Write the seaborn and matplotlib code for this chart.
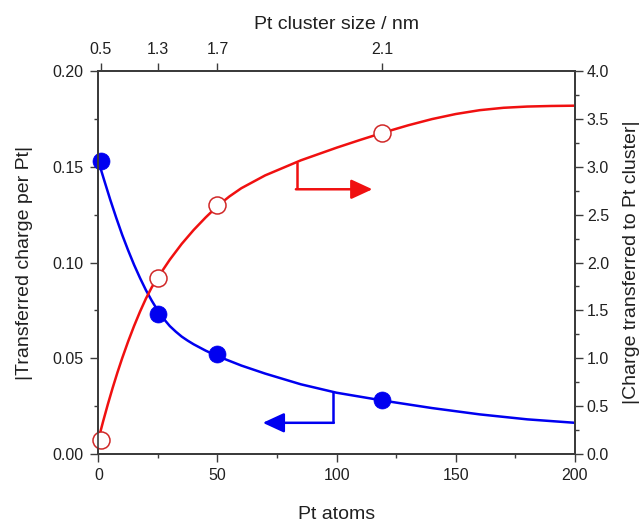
import matplotlib
matplotlib.use("Agg")
import matplotlib.pyplot as plt
from matplotlib.ticker import MultipleLocator, FixedLocator, FormatStrFormatter
import seaborn as sns
import pandas as pd

# Computed charge for Pt clusters
pt_atoms = [1, 25, 50, 119]
charge_per_pt = [0.153, 0.073, 0.052, 0.028]
charge_cluster = [0.15, 1.84, 2.60, 3.35]

# Fitted trend of the charge per Pt atom
fit_atoms_pp = [0, 2.5, 5, 7.5, 10, 12.5, 15, 17.5, 20, 22.5, 25, 27.5, 30,
                32.5, 35, 37.5, 40, 45, 50, 60, 70, 85, 100, 120, 140, 160,
                180, 200]
fit_per_pt = [0.1530, 0.1428, 0.1328, 0.1234, 0.1145, 0.1064, 0.0988,
              0.0919, 0.0855, 0.0799, 0.0748, 0.0705, 0.0668, 0.0639,
              0.0613, 0.0592, 0.0573, 0.0540, 0.0511, 0.0462, 0.0420,
              0.0364, 0.0320, 0.0278, 0.0240, 0.0207, 0.0181, 0.0163]

# Fitted trend of the total charge on the cluster
fit_atoms_cl = [0, 2, 4, 6, 8, 10, 12.5, 15, 17.5, 20, 22.5, 25, 30, 35, 40,
                45, 50, 55, 60, 70, 85, 100, 110, 120, 130, 140, 150, 160,
                170, 180, 190, 200]
fit_cluster = [0.15, 0.34, 0.52, 0.69, 0.85, 1.00, 1.175, 1.3375, 1.4875,
               1.625, 1.745, 1.845, 2.03, 2.195, 2.34, 2.47, 2.59, 2.69,
               2.776, 2.91, 3.0675, 3.1995, 3.2815, 3.36, 3.433, 3.498,
               3.551, 3.591, 3.616, 3.629, 3.635, 3.638]

# Top axis: cluster diameter for the computed clusters
size_atoms = [1, 25, 50, 119]
size_labels = ["0.5", "1.3", "1.7", "2.1"]

BLUE = "#0000f0"
RED = "#f01010"
RED_EDGE = "#d02828"
SPINE = "#3c3c3c"
TEXT = "#202020"

sns.set_theme(style="ticks")
plt.rcParams["font.family"] = ["Liberation Sans", "DejaVu Sans"]
plt.rcParams["axes.edgecolor"] = SPINE
plt.rcParams["xtick.color"] = SPINE
plt.rcParams["ytick.color"] = SPINE
plt.rcParams["xtick.labelcolor"] = TEXT
plt.rcParams["ytick.labelcolor"] = TEXT

fig = plt.figure(figsize=(6.41, 5.23), dpi=100)
ax = fig.add_axes([0.1534, 0.1319, 0.7436, 0.7323])
ax2 = ax.twinx()
ax3 = ax.twiny()

pp_df = pd.DataFrame({"atoms": fit_atoms_pp, "per_pt": fit_per_pt})
cl_df = pd.DataFrame({"atoms": fit_atoms_cl, "cluster": fit_cluster})
pts_df = pd.DataFrame({"atoms": pt_atoms, "per_pt": charge_per_pt,
                       "cluster": charge_cluster})

sns.lineplot(data=cl_df, x="atoms", y="cluster", ax=ax2, color=RED,
             linewidth=1.8, sort=False, zorder=2)
sns.lineplot(data=pp_df, x="atoms", y="per_pt", ax=ax, color=BLUE,
             linewidth=1.8, sort=False, zorder=2)
sns.scatterplot(data=pts_df, x="atoms", y="per_pt", ax=ax, color=BLUE,
                s=150, edgecolor=BLUE, linewidth=0.5, zorder=3, clip_on=False)
sns.scatterplot(data=pts_df, x="atoms", y="cluster", ax=ax2, color="white",
                s=150, edgecolor=RED_EDGE, linewidth=1.1, zorder=4,
                clip_on=False)

# Bracket arrows pointing to the axis each curve belongs to
red_bracket_x, red_bracket_top, red_bracket_y, red_tip = 83.3, 3.05, 2.765, 115
blue_bracket_x, blue_bracket_top, blue_bracket_y, blue_tip = 98.4, 0.0324, 0.0163, 69

ax2.plot([red_bracket_x, red_bracket_x], [red_bracket_top, red_bracket_y],
         color=RED, lw=1.8, solid_capstyle="butt")
ax2.annotate("", xy=(red_tip, red_bracket_y),
             xytext=(red_bracket_x - 0.4, red_bracket_y),
             arrowprops=dict(arrowstyle="-|>,head_length=1.3,head_width=0.6",
                             mutation_scale=10, color=RED, lw=1.8,
                             shrinkA=0, shrinkB=0))
ax.plot([blue_bracket_x, blue_bracket_x], [blue_bracket_top, blue_bracket_y],
        color=BLUE, lw=1.8, solid_capstyle="butt")
ax.annotate("", xy=(blue_tip, blue_bracket_y),
            xytext=(blue_bracket_x + 0.4, blue_bracket_y),
            arrowprops=dict(arrowstyle="-|>,head_length=1.3,head_width=0.6",
                            mutation_scale=10, color=BLUE, lw=1.8,
                            shrinkA=0, shrinkB=0))

# Axis ranges and ticks
ax.set_xlim(0, 200)
ax.set_ylim(0, 0.20)
ax2.set_ylim(0, 4.0)
ax3.set_xlim(ax.get_xlim())

ax.xaxis.set_major_locator(MultipleLocator(50))
ax.xaxis.set_minor_locator(MultipleLocator(25))
ax.yaxis.set_major_locator(MultipleLocator(0.05))
ax.yaxis.set_minor_locator(MultipleLocator(0.025))
ax.yaxis.set_major_formatter(FormatStrFormatter("%.2f"))
ax2.yaxis.set_major_locator(MultipleLocator(0.5))
ax2.yaxis.set_minor_locator(MultipleLocator(0.25))
ax2.yaxis.set_major_formatter(FormatStrFormatter("%.1f"))
ax3.xaxis.set_major_locator(FixedLocator(size_atoms))
ax3.set_xticklabels(size_labels)

for a in (ax, ax2, ax3):
    a.tick_params(which="major", direction="out", length=5.8, width=1.0,
                  labelsize=11.5)
    a.tick_params(which="minor", direction="out", length=3.0, width=1.0)
    for sp in a.spines.values():
        sp.set_linewidth(1.2)
        sp.set_color(SPINE)
ax.tick_params(axis="y", which="major", pad=5)
ax.tick_params(axis="x", which="major", pad=4)
ax2.tick_params(axis="y", which="major", pad=2.7)
ax3.tick_params(axis="x", which="major", pad=4)
ax3.tick_params(which="minor", length=0)

ax.set_xlabel("Pt atoms", fontsize=14, labelpad=16.5, color=TEXT)
ax.set_ylabel("|Transferred charge per Pt|", fontsize=14, labelpad=14,
              color=TEXT)
ax2.set_ylabel("|Charge transferred to Pt cluster|", fontsize=14,
               labelpad=10, rotation=90, color=TEXT)
ax3.set_xlabel("Pt cluster size / nm", fontsize=14, labelpad=10, color=TEXT)

fig.savefig("out.png", dpi=100, facecolor="white")
